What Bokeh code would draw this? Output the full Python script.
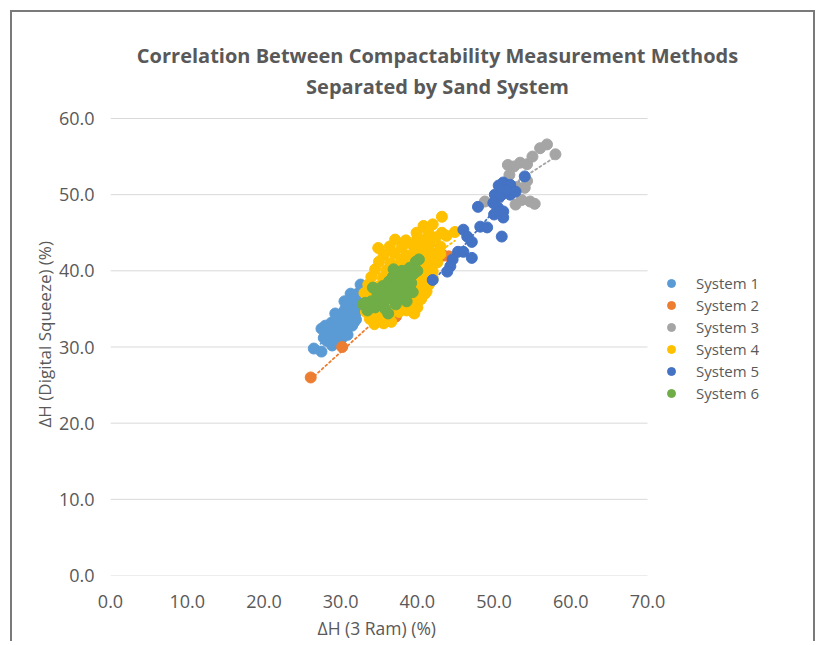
import numpy as np
from bokeh.plotting import figure
from bokeh.models import Range1d, FixedTicker, PrintfTickFormatter, Legend, LegendItem, Label, Title
from bokeh.embed import file_html
from bokeh.resources import INLINE

# ---------------- data ----------------
series_names = ["System 1", "System 2", "System 3", "System 4", "System 5", "System 6"]
series_colors = ["#5B9BD5", "#ED7D31", "#A5A5A5", "#FFC000", "#4472C4", "#70AD47"]

title_lines = ["Correlation Between Compactability Measurement Methods", "Separated by Sand System"]
x_title = "ΔH (3 Ram) (%)"
y_title = "ΔH (Digital Squeeze) (%)"

x_ticks = [0, 10, 20, 30, 40, 50, 60, 70]
y_ticks = [0, 10, 20, 30, 40, 50, 60]

s1_x = [26.5, 27.5, 27.5, 28.0, 28.3, 28.6, 28.8, 29.0, 29.2, 29.4, 29.5, 29.7, 29.9, 30.0, 30.1,
        30.3, 30.4, 30.6, 30.7, 30.8, 31.0, 31.1, 31.2, 31.4, 31.5, 31.6, 31.8, 31.9, 32.0, 32.2,
        32.3, 32.5, 32.6, 32.8, 33.0, 33.2, 28.2, 28.9, 29.6, 30.2, 27.8, 29.3, 30.5, 31.3, 32.0,
        30.9, 33.4, 33.6, 31.7]
s1_y = [29.8, 29.4, 32.4, 32.8, 31.5, 32.0, 33.2, 31.0, 32.5, 33.6, 31.8, 34.0, 32.8, 33.8, 31.9,
        34.5, 33.0, 35.0, 32.4, 34.0, 35.5, 33.5, 34.6, 36.0, 32.8, 35.2, 36.5, 34.2, 35.8, 37.0,
        35.0, 36.4, 38.2, 37.4, 36.0, 37.8, 30.8, 30.2, 30.6, 31.2, 31.2, 34.4, 36.0, 37.0, 33.6,
        31.6, 36.8, 38.0, 33.2]

s2_x = [26.1, 30.2, 37.2, 42.7, 43.4, 44.1]
s2_y = [26.0, 30.0, 34.0, 42.1, 42.0, 41.9]

s3_x = [48.8, 53.0, 54.0, 53.6, 54.7, 55.3, 51.8, 53.4, 52.6, 54.3, 55.0, 56.0, 56.9, 58.0, 52.8,
        52.0, 54.3, 50.4]
s3_y = [49.1, 51.0, 50.9, 49.3, 49.1, 48.8, 53.9, 54.2, 53.7, 54.0, 55.0, 56.1, 56.6, 55.3, 48.7,
        52.6, 51.8, 49.4]

s4_x = [34.4, 35.6, 36.6, 33.8, 35.0,
        34.2, 35.4, 36.4, 37.6, 38.6, 33.3,
        33.6, 34.6, 36.0, 37.0, 38.0, 39.0, 40.0, 39.6,
        33.9, 35.0, 36.4, 37.4, 38.5, 39.5, 40.5, 41.0,
        33.1, 34.4, 35.9, 37.0, 38.0, 39.0, 40.0, 41.2,
        33.6, 35.0, 36.4, 37.4, 38.5, 39.5, 40.4, 41.5, 42.0,
        34.0, 35.5, 36.9, 38.0, 39.0, 40.0, 41.0, 42.0,
        34.5, 36.0, 37.4, 38.5, 39.4, 40.5, 41.5, 42.6,
        35.0, 36.5, 37.9, 39.0, 40.0, 41.0, 42.0, 43.0,
        35.6, 37.0, 38.5, 39.5, 40.5, 41.5, 42.5,
        34.9, 36.4, 38.0, 39.4, 40.5, 41.6, 43.0,
        37.1, 38.5, 40.0, 41.0, 42.4, 44.9, 43.8,
        39.9, 41.4, 43.2, 42.0, 40.8, 43.2]
s4_y = [33.0, 33.1, 33.3, 33.7, 33.6,
        34.3, 34.1, 34.4, 34.6, 34.8, 34.6,
        35.2, 35.4, 35.1, 35.5, 35.3, 35.6, 35.2, 34.4,
        36.2, 36.0, 36.3, 36.1, 36.4, 36.0, 36.3, 37.0,
        37.1, 37.0, 37.3, 37.0, 37.4, 37.1, 37.5, 37.3,
        38.2, 38.0, 38.3, 38.1, 38.4, 38.0, 38.5, 38.2, 39.0,
        39.2, 39.1, 39.3, 39.0, 39.4, 39.1, 39.5, 39.9,
        40.2, 40.1, 40.4, 40.0, 40.5, 40.2, 40.4, 41.1,
        41.2, 41.0, 41.4, 41.0, 41.5, 41.2, 41.6, 42.2,
        42.1, 42.3, 42.0, 42.4, 42.1, 42.6, 42.3,
        43.0, 43.2, 43.1, 43.4, 43.0, 43.5, 43.2,
        44.1, 44.0, 44.3, 44.1, 44.4, 45.1, 44.6,
        45.0, 45.2, 45.0, 46.1, 45.9, 47.1]

s5_x = [51.2, 52.1, 54.0, 50.1, 50.8, 52.1, 49.9, 50.5, 51.2, 51.2, 47.9, 51.0, 46.0, 48.2, 49.1,
        46.5, 47.1, 45.3, 46.0, 47.1, 44.6, 44.3, 43.9, 42.0, 50.6, 51.6, 50.0, 52.8]
s5_y = [51.6, 51.3, 52.4, 50.0, 49.8, 50.0, 48.9, 48.3, 47.8, 47.0, 48.4, 44.5, 45.4, 45.8, 45.7,
        44.5, 43.8, 42.5, 42.5, 41.7, 41.5, 40.6, 39.9, 38.8, 51.2, 50.6, 47.4, 50.4]

s6_x = [32.9, 33.5, 34.0, 34.5, 34.8, 35.2, 35.5, 35.8, 36.0, 36.3, 36.5, 36.8, 37.0, 37.2, 37.5,
        37.6, 37.8, 38.0, 38.2, 38.5, 38.7, 39.0, 39.2, 39.5, 39.8, 40.0, 40.2, 36.2, 35.0, 34.2,
        33.2, 36.0, 35.6, 37.3, 38.6, 39.4, 36.9]
s6_y = [35.6, 34.8, 36.0, 35.2, 37.0, 36.2, 38.0, 35.0, 37.2, 38.6, 36.4, 39.2, 37.8, 35.6, 39.8,
        37.0, 38.4, 40.0, 36.4, 39.0, 37.6, 40.4, 38.4, 39.6, 41.2, 40.0, 41.5, 34.4, 37.6, 37.8,
        35.8, 36.9, 35.8, 38.8, 36.0, 37.2, 40.2]

series_x = [s1_x, s2_x, s3_x, s4_x, s5_x, s6_x]
series_y = [s1_y, s2_y, s3_y, s4_y, s5_y, s6_y]

# ---------------- layout (pixels) ----------------
FONT = "Open Sans"
GREY = "#595959"
W, H = 805, 631
LEFT, BOTTOM = 98, 68
PLOT_W, PLOT_H = 537, 457          # area that holds x 0..70 and y 0..60
FRAME_W, FRAME_H = W - LEFT, H - BOTTOM
X_MAX, Y_MAX = x_ticks[-1], y_ticks[-1]

p = figure(width=W, height=H, output_backend="svg", toolbar_location=None,
           x_range=Range1d(0, X_MAX * FRAME_W / PLOT_W),
           y_range=Range1d(0, Y_MAX * FRAME_H / PLOT_H),
           min_border_left=LEFT, min_border_right=0, min_border_top=0, min_border_bottom=BOTTOM)
p.margin = (10, 0, 0, 10)
p.styles = {"border-left": "2px solid #7a7a7a", "border-top": "2px solid #7a7a7a",
            "border-right": "2px solid #7a7a7a"}
p.outline_line_color = None
p.background_fill_color = "white"
p.border_fill_color = "white"

# horizontal gridlines spanning the x axis extent only
p.segment(x0=[0] * len(y_ticks), y0=y_ticks, x1=[X_MAX] * len(y_ticks), y1=y_ticks,
          line_color="#D9D9D9", line_width=1)

# linear trendlines (dotted), computed from each series
for xs, ys, c in zip(series_x, series_y, series_colors):
    k, b = np.polyfit(xs, ys, 1)
    x0, x1 = min(xs), max(xs)
    p.line([x0, x1], [k * x0 + b, k * x1 + b], line_color=c, line_width=1.8,
           line_dash="2 3", line_cap="round")

renderers = []
for xs, ys, c in zip(series_x, series_y, series_colors):
    r = p.scatter(xs, ys, size=11, fill_color=c, line_color=c)
    renderers.append(r)

p.xgrid.visible = False
p.ygrid.visible = False

p.xaxis.ticker = FixedTicker(ticks=x_ticks)
p.yaxis.ticker = FixedTicker(ticks=y_ticks)
p.xaxis.formatter = PrintfTickFormatter(format="%.1f")
p.yaxis.formatter = PrintfTickFormatter(format="%.1f")

for ax in (p.xaxis[0], p.yaxis[0]):
    ax.axis_line_color = None
    ax.major_tick_line_color = None
    ax.minor_tick_line_color = None
    ax.major_tick_out = 0
    ax.major_label_text_color = GREY
    ax.major_label_text_font = FONT
    ax.major_label_text_font_size = "18px"

p.xaxis.major_label_standoff = 19
p.yaxis.major_label_standoff = 16

# axis titles as side titles (positioned along the 0..max extent)
p.add_layout(Title(text=x_title, align="left", offset=207, standoff=7, text_font=FONT,
                   text_font_size="17.5px", text_font_style="normal", text_color=GREY), "below")
p.add_layout(Title(text=y_title, align="left", offset=148, standoff=0, text_font=FONT,
                   text_font_size="17px", text_font_style="normal", text_color=GREY), "left")

# chart title (two lines) in frame screen units
for txt, sy in zip(title_lines, [FRAME_H - 43, FRAME_H - 74]):
    p.add_layout(Label(x=327, y=sy, x_units="screen", y_units="screen", text=txt,
                       text_align="center", text_baseline="middle", text_font=FONT,
                       text_font_size="20px", text_font_style="bold", text_color=GREY))

legend = Legend(items=[LegendItem(label=n, renderers=[r]) for n, r in zip(series_names, renderers)],
                location=(551, 172), glyph_width=20, glyph_height=20, label_height=20,
                label_standoff=15, spacing=2, padding=0, margin=0,
                border_line_color=None, background_fill_alpha=0,
                label_text_font=FONT, label_text_font_size="15px", label_text_color=GREY)
p.add_layout(legend)

open("out.html", "w").write(file_html(p, INLINE))
